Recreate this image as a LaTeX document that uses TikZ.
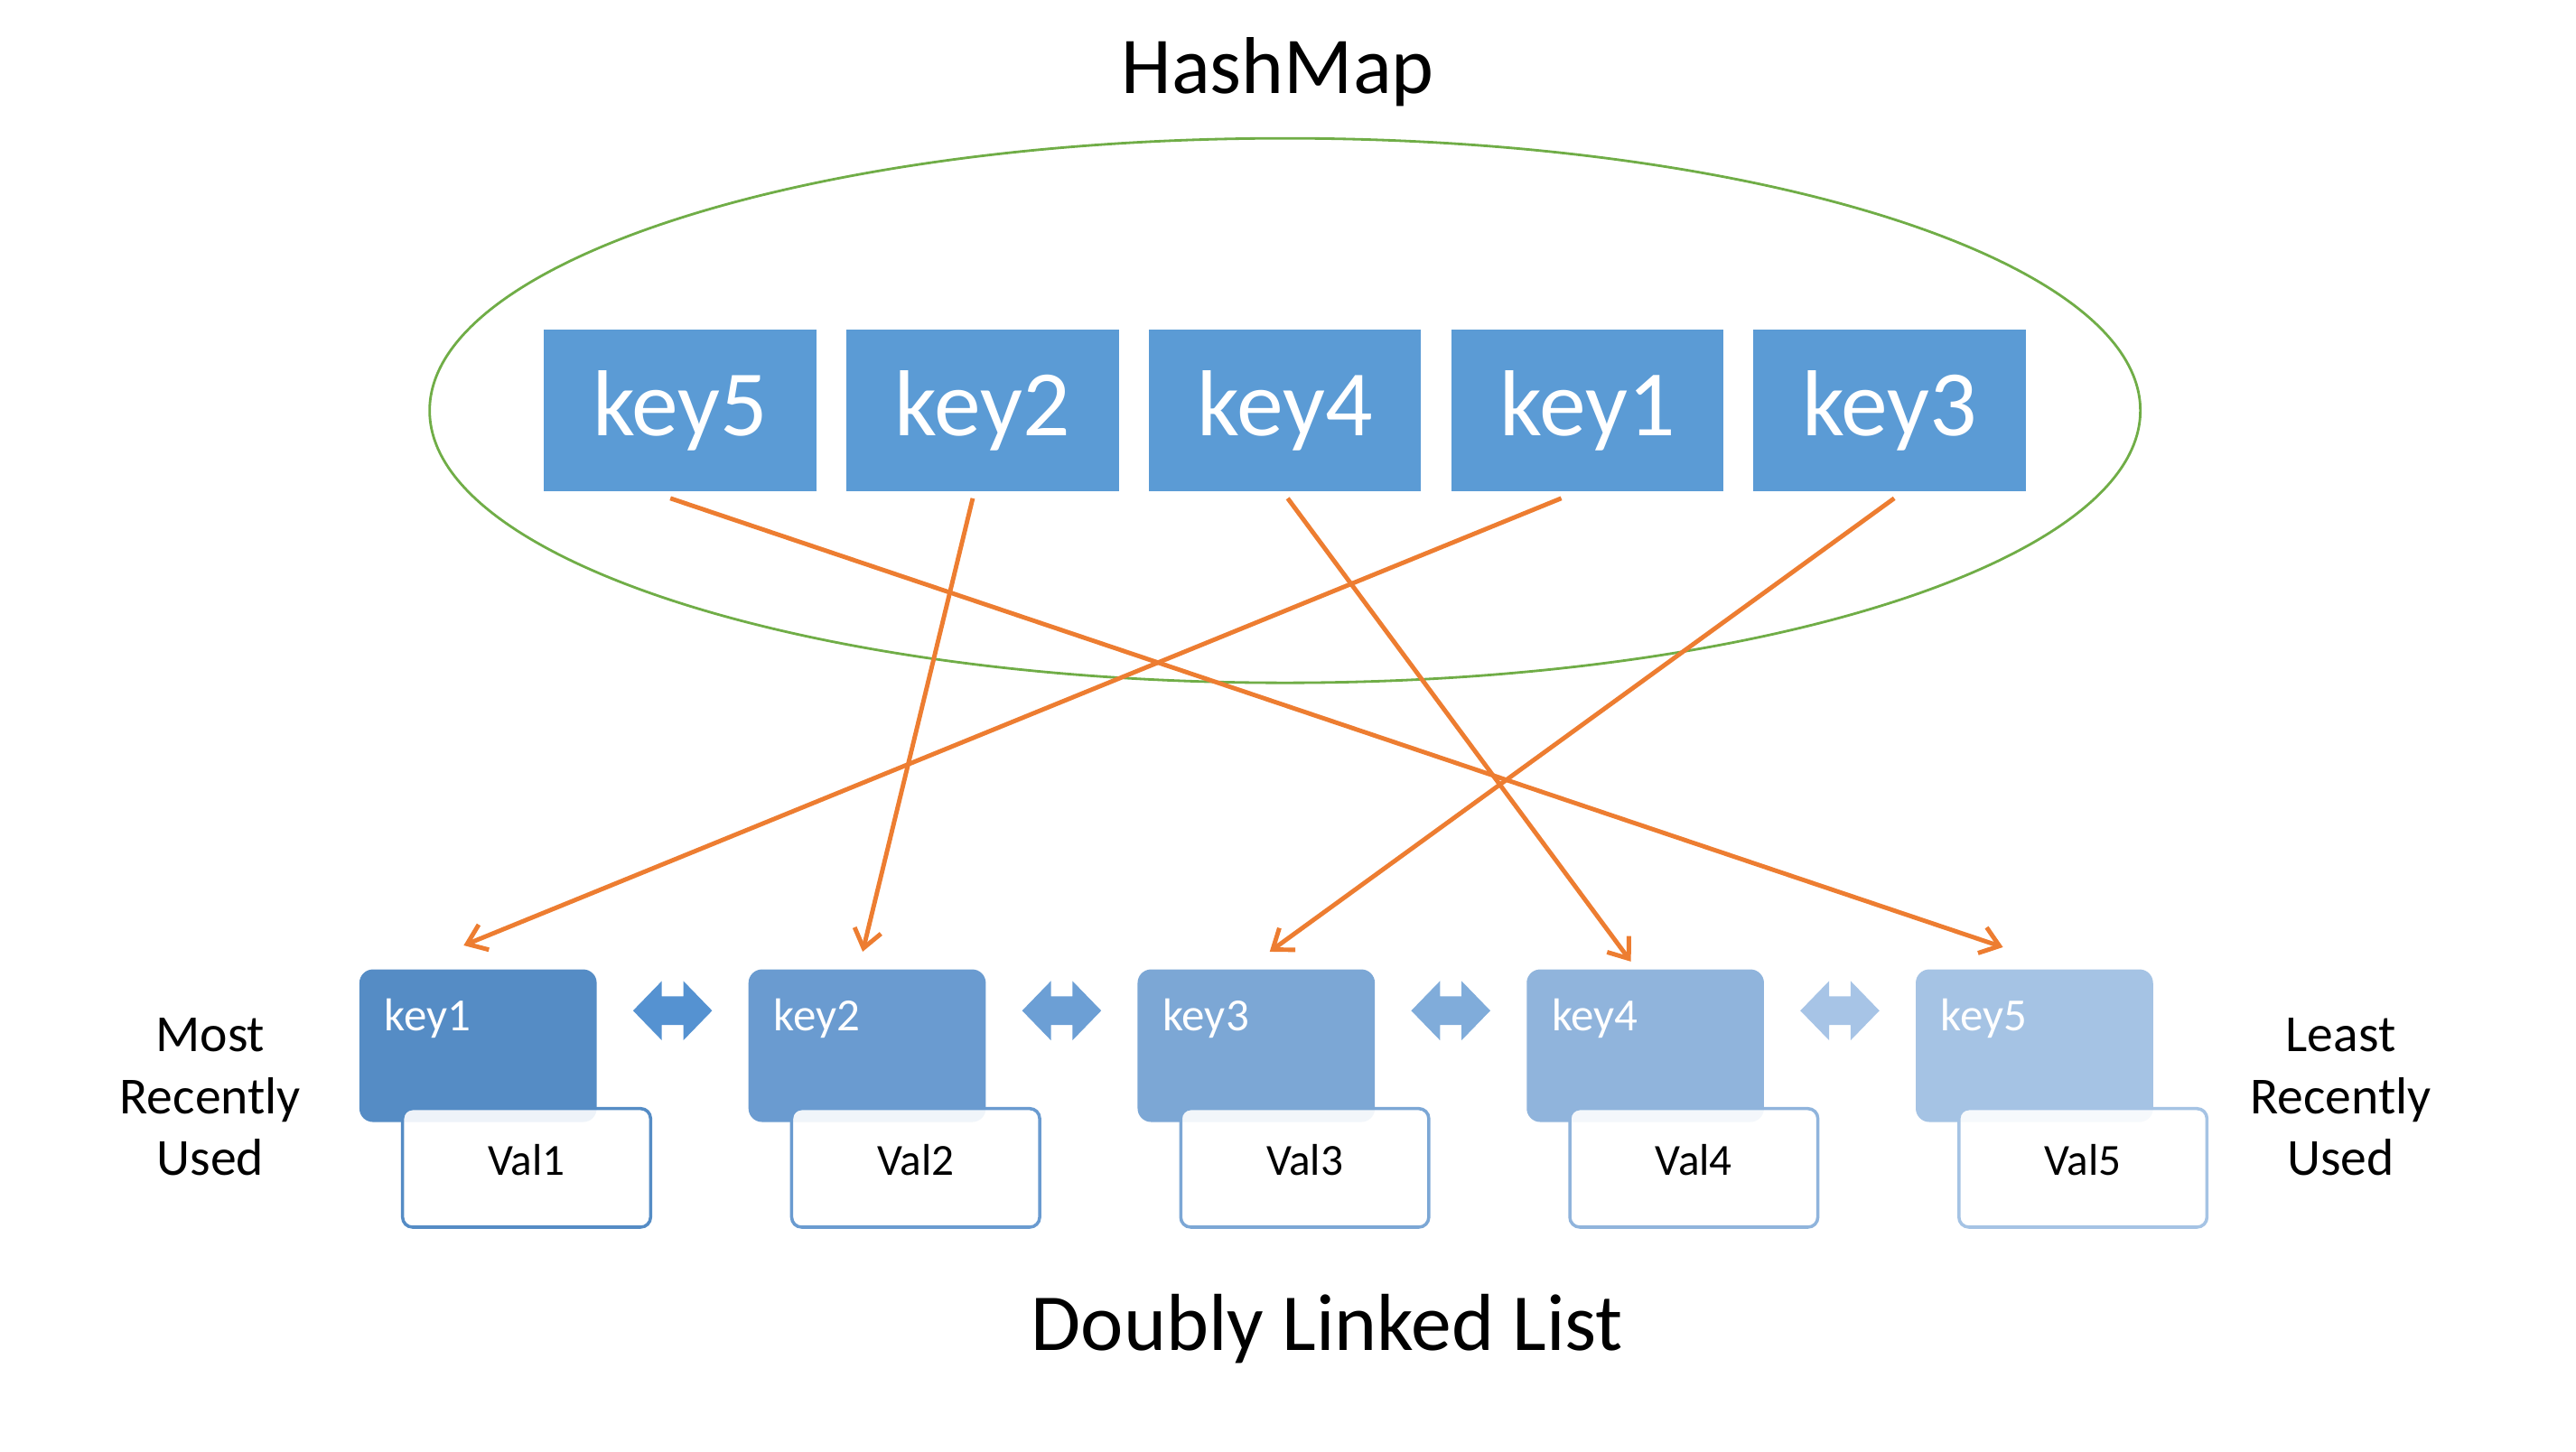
\documentclass[tikz,border=0pt]{standalone}
\usepackage{fontspec}
\setmainfont{Carlito}
\usetikzlibrary{arrows.meta,calc}

\definecolor{hblue}{HTML}{5B9BD5}
\definecolor{linkorange}{HTML}{ED7D31}
\definecolor{ringgreen}{HTML}{70AD47}
\definecolor{c1}{HTML}{558CC5}
\definecolor{c2}{HTML}{6A9BD0}
\definecolor{c3}{HTML}{7CA7D5}
\definecolor{c4}{HTML}{90B4DC}
\definecolor{c5}{HTML}{A5C3E4}
\definecolor{a1}{HTML}{5592D1}
\definecolor{a2}{HTML}{6C9FD5}
\definecolor{a3}{HTML}{80ACDA}
\definecolor{a4}{HTML}{A7C4E6}

\begin{document}
\begin{tikzpicture}[x=0.00995cm, y=-0.00995cm,
    hkey/.style={fill=hblue, text=white, minimum width=3.015cm,
      minimum height=1.79cm, inner sep=0pt, font=\fontsize{29.5}{32}\selectfont},
    lkey/.style={rounded corners=0.15cm, minimum width=2.627cm,
      minimum height=1.69cm, inner sep=0pt},
    lval/.style={line width=1pt, fill=white, fill opacity=0.9,
      text opacity=1, rounded corners=0.11cm, minimum width=2.746cm,
      minimum height=1.313cm, inner sep=0pt, text depth=0.18cm,
      font=\fontsize{14}{16}\selectfont},
    link/.style={draw=linkorange, line width=1.4pt,
      -{Straight Barb[length=0.2cm,width=0.3cm]}}]
    \useasboundingbox (0cm, 0cm) rectangle (28.52cm, -16.07cm);

    \node[anchor=base, font=\fontsize{25.4}{30}\selectfont] (hashmap) at (1422,
      104) {HashMap};
    \draw[ringgreen, line width=0.8pt] (1430, 457) ellipse [x radius=9.47cm,
      y radius=3.015cm];
    \foreach \k [count=\i] in {5,2,4,1,3}
      \node[hkey] (hk\k) at ({757+336.5*(\i-1)}, 457) {key\k};

    \foreach \k/\col in {1/c1,2/c2,3/c3,4/c4,5/c5} {
      \node[lkey, fill=\col] (lk\k) at ({532+433*(\k-1)}, 1164) {};
      \node[anchor=base west, inner sep=0pt, text=white,
        font=\fontsize{14.5}{16}\selectfont]
        at ($ (lk\k.north west) + (28, 69) $) {key\k};
      \node[lval, draw=\col] (val\k) at ({586+433*(\k-1)}, 1300) {Val\k};
    }

    \foreach \a/\b/\col in {lk1/lk2/a1,lk2/lk3/a2,lk3/lk4/a3,lk4/lk5/a4}
      \fill[\col, shift={($ (\a.east)!0.5!(\b.west) + (0, -39) $)}]
        (-44, 0) -- (-12, -33) -- (-12, -16) -- (12, -16) -- (12, -33) --
        (44, 0) -- (12, 33) -- (12, 16) -- (-12, 16) -- (-12, 33) -- cycle;

    \foreach \k/\sx/\ex/\ey in {5/-11/-35/-24,2/-11/-5/-19,4/3/-16/-8,
        1/-29/-16/-26,3/5/15/-19}
      \draw[link] ($ (hk\k.south) + (\sx, 7) $) -- ($ (lk\k.north) + (\ex,
        \ey) $);

    \node[align=center, font=\fontsize{16.4}{19.6}\selectfont] (mru) at (234,
      1221) {Most\\Recently\\Used};
    \node[align=center, font=\fontsize{16.4}{19.6}\selectfont] (lru) at (2605,
      1221) {Least\\Recently\\Used};
    \node[anchor=base, font=\fontsize{25.5}{30}\selectfont] (dll) at (1477,
      1503) {Doubly Linked List};
  \end{tikzpicture}
\end{document}
